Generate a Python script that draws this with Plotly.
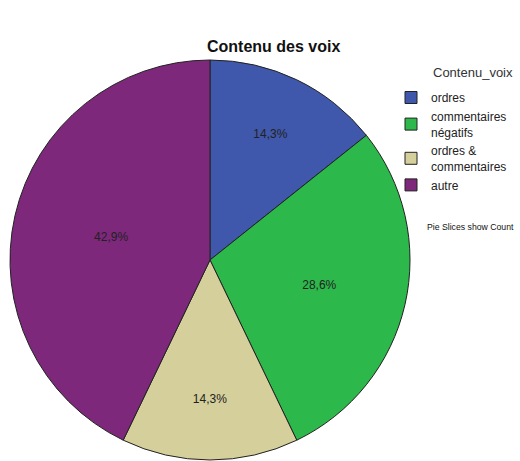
import plotly.graph_objects as go

labels = ["ordres", "commentaires<br>négatifs", "ordres &<br>commentaires", "autre"]
counts = [1, 2, 1, 3]
colors = ["#3f58ab", "#2db84b", "#d5cf9b", "#7d287b"]

W, H = 520, 461
cx, cy, r = 210, 260, 200


def px(x):
    return x / W


def py(y):
    return 1 - y / H


fig = go.Figure(go.Pie(
    labels=labels,
    values=counts,
    marker=dict(colors=colors, line=dict(color="#222222", width=1)),
    sort=False,
    direction="clockwise",
    rotation=0,
    textinfo="percent",
    texttemplate="%{percent:.1%}",
    textposition="inside",
    insidetextorientation="horizontal",
    textfont=dict(family="Liberation Sans, Arial", size=12, color="#222222"),
    domain=dict(x=[(cx - r) / W, (cx + r) / W], y=[(H - cy - r) / H, (H - cy + r) / H]),
    hoverinfo="label+value+percent",
))

fig.update_layout(
    width=W, height=H,
    margin=dict(l=0, r=0, t=0, b=0, autoexpand=False),
    separators=",.",
    paper_bgcolor="white",
    font=dict(family="Liberation Sans, Arial", color="#222222"),
    showlegend=True,
    legend=dict(
        x=px(391), y=py(83), xanchor="left", yanchor="top",
        font=dict(size=12),
        itemwidth=30,
        tracegroupgap=0,
        bgcolor="rgba(0,0,0,0)",
    ),
    annotations=[
        dict(text="<b>Contenu des voix</b>", x=px(273), y=py(47), xref="paper", yref="paper",
             showarrow=False, font=dict(size=16, color="#111111"), xanchor="center", yanchor="middle"),
        dict(text="Contenu_voix", x=px(473), y=py(73), xref="paper", yref="paper",
             showarrow=False, font=dict(size=13, color="#333333"), xanchor="center", yanchor="middle"),
        dict(text="Pie Slices show Count", x=px(425), y=py(227), xref="paper", yref="paper",
             showarrow=False, font=dict(size=8.7, color="#111111"), xanchor="left", yanchor="middle"),
    ],
)

# remove the default page margin so the 520x461 figure fills the window exactly
fig.write_html(
    "out.html",
    config={"displayModeBar": False},
    post_script="document.body.style.margin='0';document.body.style.overflow='hidden';",
)
